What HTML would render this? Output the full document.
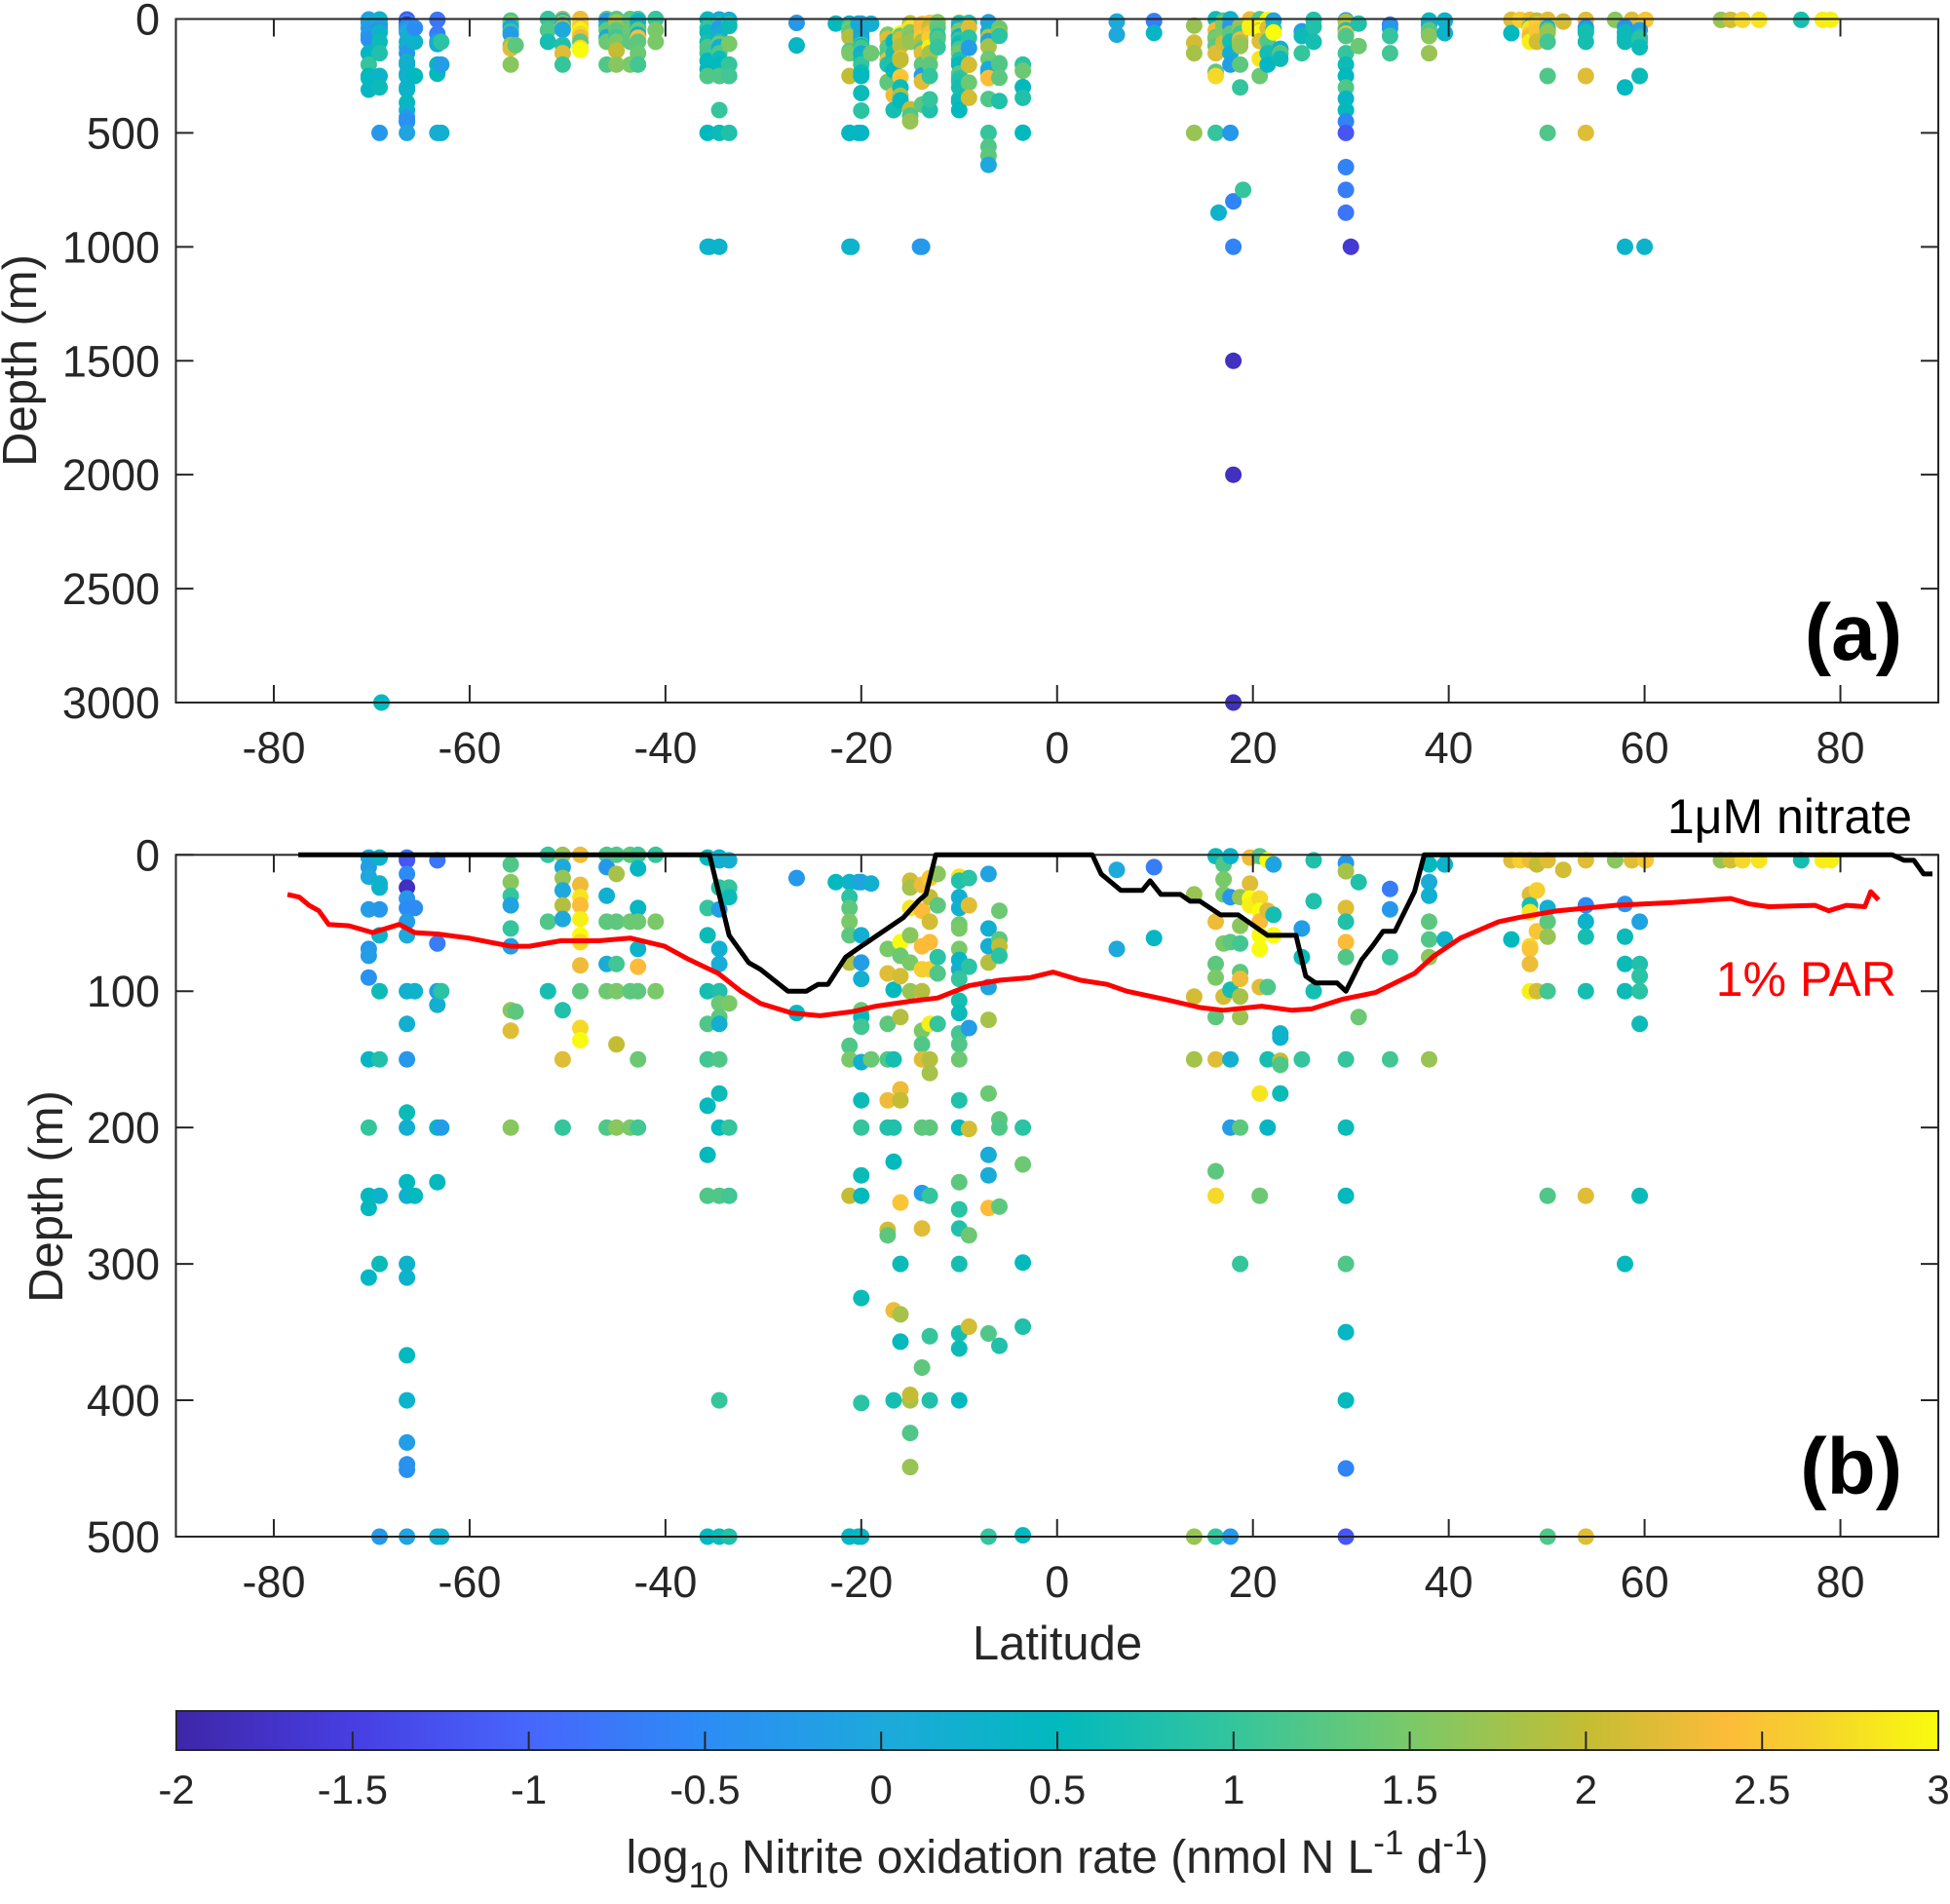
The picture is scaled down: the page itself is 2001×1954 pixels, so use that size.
<!DOCTYPE html>
<html><head><meta charset="utf-8">
<style>
html,body{margin:0;padding:0;background:#fff;}
svg{display:block;font-family:"Liberation Sans",Arial,sans-serif;}
</style></head>
<body>
<svg id="chart" width="2001" height="1954" viewBox="0 0 2001 1954" xmlns="http://www.w3.org/2000/svg">
<defs>
<linearGradient id="parula" x1="0" x2="1" y1="0" y2="0">
<stop offset="0" stop-color="rgb(62,38,168)"/>
<stop offset="0.1" stop-color="rgb(71,62,226)"/>
<stop offset="0.2" stop-color="rgb(71,102,252)"/>
<stop offset="0.3" stop-color="rgb(44,140,245)"/>
<stop offset="0.4" stop-color="rgb(29,169,220)"/>
<stop offset="0.5" stop-color="rgb(2,185,190)"/>
<stop offset="0.6" stop-color="rgb(52,197,157)"/>
<stop offset="0.7" stop-color="rgb(122,201,105)"/>
<stop offset="0.8" stop-color="rgb(196,189,52)"/>
<stop offset="0.88" stop-color="rgb(252,188,57)"/>
<stop offset="0.93" stop-color="rgb(245,210,45)"/>
<stop offset="1" stop-color="rgb(249,251,14)"/>
</linearGradient>
</defs>
<g id="panelA"></g>
<g id="panelB"></g>
<g id="cbar"></g>
</svg>
<script>
// ---- data ----
const stationLat = [-70.3,-69.2,-66.4,-65.6,-63.3,-62.9,-55.8,-55.3,-52,-50.5,-48.7,-46,-45,-43.6,-42.8,-41,-35.7,-34.5,-33.5,-26.6,-22.6,-21.2,-20.3,-20,-19,-17.3,-16.7,-16,-15,-13.8,-13,-12.2,-10,-9,-7,-5.9,-3.5,6.1,9.9,14,16.2,17,17.7,18.7,19.7,20.7,21.5,22.1,22.8,25,26.2,29.5,30.8,34,38,39.6,46.4,47.3,48.3,49,50.1,51.7,54,57,58.7,60.1,58,59.5,67.8,68.8,70,71.7,76,78.2,79,
 -69,18,19,16.5,30,-35.5,-21,-14,60];
const stationDepths = [
[2,9,16,40,69,74,90,150,200,250,259,310],
[2,21,24,40,59,100,150,250,300,500],
[2,4,14,24,32,39,49,59,100,124,150,189,200,240,250,300,310,367,400,431,447,451,500],
[100,250,39],
[4,65,100,110,200,240,500],
[100,200,500],
[7,20,30,37,54,67,114,129,200],
[115],
[0,49,100],
[0,9,17,26,37,47,114,150,200],
[0,22,31,37,47,59,64,81,100,127,136],
[0,9,30,49,80,100,200],
[0,14,49,80,100,139,200],
[0,49,100,200],
[0,10,39,49,69,82,100,150,200],
[0,49,100],
[2,39,59,100,124,150,184,220,250,500,1000],
[2,4,24,40,69,80,100,109,119,124,150,175,200,250,400,500,1000],
[4,24,31,200,250,500,109],
[17,116],
[20],
[20,31,39,49,59,79,140,150,250,500,500,1000],
[500,20],
[20,59,79,91,114,119,126,152,180,200,235,250,325,402,500],
[21,150],
[69,87,124,150,180,200,275,279],
[99,150,200,225,334,400],
[64,74,89,119,172,180,255,300,337,357],
[19,24,39,59,79,100,400,396,424,449],
[22,41,67,84,100,129,139,150,200,248,274,376,1000],
[17,31,49,64,84,124,150,160,200,250,400,353],
[14,37,75,87,124],
[16,19,31,39,51,54,69,77,84,91,107,116,131,139,150,180,200,240,260,274,300,351,362,400],
[17,37,82,127,201,279,346],
[14,54,67,79,97,121,175,220,235,259,351,500,560,600,640],
[41,62,67,74,194,200,258,360],
[200,227,299,346,499],
[11,69],
[9,61],
[29,104,150,500],
[1,49,80,90,119,150,232,250,500],
[7,18,29,65,104],
[1,31,64,99,150,200,500],
[31,52,65,86,91,104,119,200,300],
[2,21,32,37],
[1,32,41,49,59,69,97,175,250],
[4,41,97,150,200],
[7,44,59],
[131,134,151,154,175],
[54,75,150],
[4,34,100],
[6,12,39,49,64,75,150,200,250,300,350,400,450,500,650,750,850],
[20,119],
[25,40,75,150],
[7,20,30,49,62,75,150],
[7,62],
[4,62],
[4],
[4,29,37,42,67,69,80,100],
[7,26,56,100],
[4,39,49,60,100,250,500],
[11],
[4,37,49,60,100,250,500],
[4],[4],[4],
[36,60,80,100,300,1000],
[49,80,89,100,124,250],
[4],[4],[4],[4],[4],[4],[4],
[3000],[3000,2000,1500,1000,800],[750],[850],[1000],[1000],[1000],[1000],[1000]
];
const stationRates = [
[0,-0.2,0,-0.2,-0.3,-0.2,-0.4,0.4,1.0,0.5,0.5,0.4],
[0.3,0.3,0.3,-0.3,0.3,0.6,0.8,0.3,0.6,-0.3],
[-0.8,-1.2,-0.5,-1.8,-0.3,-0.5,-0.2,0,0.2,0.2,-0.3,0.6,0.2,0.5,0.2,0.3,0.3,0.5,0.3,-0.2,-0.4,-0.4,-0.1],
[0.3,0.5,-0.5],
[-0.8,-0.7,-0.2,0.2,0.5,0.5,0.1],
[0.9,-0.2,0.2],
[1.2,1.6,1.0,-0.1,1.0,-0.2,1.6,2.2,1.6],
[1.3],
[1.0,1.2,0.7],
[1.7,0.0,1.7,0.0,1.9,0.0,0.8,2.2,1.0],
[2.3,2.3,2.8,2.4,2.9,3.0,2.7,2.3,1.3,2.7,3.0],
[1.2,-0.3,0.2,1.3,0.1,1.4,1.2],
[1.2,1.8,1.3,1.1,1.5,2.0,1.6],
[1.3,1.4,1.3,1.5],
[1.1,0.4,0.4,1.4,0.3,2.4,1.3,1.4,1.1],
[1.0,1.5,1.5],
[0.5,1.0,0.6,0.7,1.2,1.1,0.5,0.5,1.2,0.5,0.3],
[0.3,0.2,0.9,-0.2,0.2,0.1,0.8,1.4,1.3,0.2,1.2,0.6,0.5,1.2,1.0,0.6,0.3],
[0.2,1.0,0.6,1.0,1.1,0.8,1.5],
[-0.3,0.4],
[0.5],
[0.3,0.9,1.3,1.5,1.3,1.9,1.2,1.5,2.0,0.2,0.4,0.3],
[0.5,0.2],
[-0.1,0.2,-0.2,0.2,1.4,0.5,1.1,0.2,0.6,1.0,0.6,0.5,0.6,0.9,0.4],
[0.2,1.4],
[1.5,2.2,1.3,1.2,2.3,0.8,2.1,1.3],
[0.5,0.7,0.8,0.5,2.3,0.7],
[3.0,1.4,2.1,1.9,2.3,2.0,2.5,0.6,1.8,0.5],
[2.1,1.8,2.8,1.6,1.5,1.7,1.8,2.0,1.2,1.7],
[2.3,2.4,2.4,2.6,1.9,1.5,1.2,2.2,1.3,-0.2,2.2,1.3,-0.3],
[2.5,2.0,2.1,2.4,2.6,2.9,1.9,1.8,1.3,1.0,0.8,1.0],
[1.6,1.3,0.9,1.2,1.0],
[2.8,0.8,0.2,0.2,1.4,1.5,1.5,0.4,0.2,1.0,0.7,0.6,1.1,1.2,1.4,0.8,0.5,1.3,0.9,0.8,0.7,0.7,0.6,0.5],
[0.9,2.2,0.9,-0.2,2.1,1.4,2.1],
[-0.1,0.2,0.2,1.9,-0.1,1.8,1.4,0.1,0.1,2.4,1.2,1.0,1.2,1.3,0.0],
[1.4,1.3,2.0,0.9,1.3,1.2,1.3,0.8],
[0.9,1.4,0.5,0.8,0.5],
[0.0,0.0],
[-0.7,0.4],
[1.7,2.1,1.8,1.7],
[0.6,2.3,1.3,1.5,1.3,2.2,1.3,2.7,1.0],
[1.2,1.5,1.5,1.5,2.1],
[0.3,-0.3,1.3,0.7,0.2,-0.2,-0.3],
[1.7,1.6,1.1,1.3,2.3,1.8,1.7,1.3,1.0],
[2.3,2.2,3.0,2.9],
[1.2,2.7,3.0,2.4,3.0,3.0,2.2,2.8,1.4],
[3.0,2.2,1.2,0.7,0.4],
[-0.1,0.7,3.0],
[0.3,0.3,2.0,1.2,0.6],
[-0.2,0.6,1.0],
[0.8,0.8,0.7],
[-0.3,1.8,2.2,0.8,2.4,1.2,1.0,0.6,0.5,1.2,0.4,0.5,-0.6,-1.2,-0.6,-0.7,-0.8],
[0.8,1.4],
[-0.7,-0.3,1.0,1.1],
[0.5,0.1,0.2,1.3,1.2,1.6,1.7],
[0.3,0.3],
[2.2,0.5],
[2.6],
[2.3,2.2,0.7,2.8,2.7,2.5,2.3,2.9],
[2.0,2.6,2.5,2.1],
[2.2,0.2,1.3,1.7,1.1,1.2,1.2],
[2.1],
[2.2,-0.5,0.3,0.7,0.7,2.2,2.2],
[1.6],[2.2],[2.5],
[-0.4,0.6,0.6,0.6,0.5,0.3],
[-0.1,0.8,0.9,0.9,0.6,0.6],
[1.7],[2.1],[2.7],[2.8],[0.7],[2.9],[2.9],
[0.5],[-1.8,-1.8,-1.8,-0.6,-0.6],[1.0],[0.3],[-1.6],[0.3],[0.3],[-0.3],[0.3]
];
const nitrateLat = [-77.5,-35.5,-33.5,-31.5,-30.3,-27.5,-25.6,-24.4,-23.4,-21.6,-20,-15.7,-14.2,-13.4,-12.4,3.6,4.5,6.5,8.7,9.5,10.6,12.6,13.6,14.6,16.7,18.5,21.5,24.4,25.4,26.4,28.6,29.5,31.1,32.2,33.3,34.5,36.5,37.5,85.3,86.5,87.5,88.5,89.4];
const nitrateDepth = [0,0,59,79,84,100,100,95,95,75,67,46,34,29,0,0,14,26,26,19,29,29,34,34,44,44,59,59,89,94,94,100,77,67,56,56,27,0,0,4,4,14,14];
const parLat = [-78.6,-77.4,-76.4,-75.4,-74.4,-72.3,-69.9,-67.2,-65.6,-63.3,-60.1,-55.8,-53.9,-50.7,-46.8,-43.6,-40.1,-37.8,-34.6,-32.3,-30.3,-27.1,-24.2,-20.9,-18.5,-14.6,-12.2,-9,-5.9,-2.7,-0.4,2.4,5.1,7.1,11,14.6,17,20.9,24,26,29.1,32.5,36.5,38.5,41.2,45.1,47.1,51.1,57,62.9,68.8,70.7,72.7,77.4,78.8,80.6,82.5,83.1,83.9];
const parDepth = [29,31,37,41,51,52,57,51,57,58,61,67,67,63,63,61,67,76,87,100,109,116,118,115,111,107,105,96,92,90,86,92,95,100,106,112,114,111,114,113,106,101,87,74,61,49,46,41,37,35,32,36,38,37,41,37,38,27,33];
const latTicks = [-80,-60,-40,-20,0,20,40,60,80];
const depthTicksA = [0,500,1000,1500,2000,2500,3000];
const depthTicksB = [0,100,200,300,400,500];
const cbarTicks = [-2,-1.5,-1,-0.5,0,0.5,1,1.5,2,2.5,3];

// ---- geometry ----
const L = 180.5, R = 1989;
const A = {top: 19.5, bot: 721, dmax: 3000};
const B = {top: 877.3, bot: 1577, dmax: 500};
function xLat(lat){ return L + (lat + 90) / 180 * (R - L); }
function yDep(P, d){ return P.top + d / P.dmax * (P.bot - P.top); }
const stops = [[0,62,38,168],[0.1,71,62,226],[0.2,71,102,252],[0.3,44,140,245],[0.4,29,169,220],[0.5,2,185,190],[0.6,52,197,157],[0.7,122,201,105],[0.8,196,189,52],[0.88,252,188,57],[0.93,245,210,45],[1,249,251,14]];
function parula(v){
  let t = Math.max(0, Math.min(1, (v + 2) / 5));
  for (let i = 1; i < stops.length; i++){
    if (t <= stops[i][0]){
      const a = stops[i-1], b = stops[i], f = (t - a[0]) / (b[0] - a[0]);
      return 'rgb(' + [1,2,3].map(k => Math.round(a[k] + f * (b[k] - a[k]))).join(',') + ')';
    }
  }
  return 'rgb(249,251,14)';
}
const NS = 'http://www.w3.org/2000/svg';
function mk(tag, attrs, parent){
  const e = document.createElementNS(NS, tag);
  for (const k in attrs) e.setAttribute(k, attrs[k]);
  parent.appendChild(e);
  return e;
}
const AX = '#262626';

function drawPanel(P, g, ticks, letter){
  const dots = mk('g', {}, g);
  
  
  stationLat.forEach((lat, i) => {
    stationDepths[i].forEach((d, j) => {
      if (d > P.dmax + 5) return;
      const c = mk('circle', {cx: xLat(lat).toFixed(1), cy: yDep(P, d).toFixed(1), r: 8.5, fill: parula(stationRates[i][j])}, dots);
      
      
    });
  });
  const box = mk('rect', {x: L, y: P.top, width: R - L, height: P.bot - P.top, fill: 'none', stroke: AX, 'stroke-width': 2}, g);
  
  
  latTicks.forEach(t => {
    const x = xLat(t);
    mk('line', {x1: x, x2: x, y1: P.bot, y2: P.bot - 18, stroke: AX, 'stroke-width': 2}, g);
    mk('line', {x1: x, x2: x, y1: P.top, y2: P.top + 18, stroke: AX, 'stroke-width': 2}, g);
    const tx = mk('text', {x: x, y: P.bot + 62, 'font-size': 45, 'text-anchor': 'middle', fill: AX}, g);
    tx.textContent = String(t);
    
    
  });
  ticks.forEach(t => {
    const y = yDep(P, t);
    mk('line', {x1: L, x2: L + 18, y1: y, y2: y, stroke: AX, 'stroke-width': 2}, g);
    mk('line', {x1: R, x2: R - 18, y1: y, y2: y, stroke: AX, 'stroke-width': 2}, g);
    const ty = mk('text', {x: 164, y: y + 16, 'font-size': 45, 'text-anchor': 'end', fill: AX}, g);
    ty.textContent = String(t);
    
    
  });
  const lt = mk('text', {x: 1952, y: P.bot - 44, 'font-size': 82, 'font-weight': 'bold', 'text-anchor': 'end', fill: '#000'}, g);
  lt.textContent = letter;
  
  
}

const gA = document.getElementById('panelA');
const gB = document.getElementById('panelB');
drawPanel(A, gA, depthTicksA, '(a)');
drawPanel(B, gB, depthTicksB, '(b)');

const yA = mk('text', {x: 0, y: 0, transform: 'translate(37,370) rotate(-90)', 'font-size': 49, 'text-anchor': 'middle', fill: AX}, gA);
yA.textContent = 'Depth (m)';


const yB = mk('text', {x: 0, y: 0, transform: 'translate(64,1228) rotate(-90)', 'font-size': 49, 'text-anchor': 'middle', fill: AX}, gB);
yB.textContent = 'Depth (m)';


const xt = mk('text', {x: 1085, y: 1703, 'font-size': 49, 'text-anchor': 'middle', fill: AX}, gB);
xt.textContent = 'Latitude';



function pathFrom(lats, deps){
  return lats.map((la, i) => (i ? 'L' : 'M') + xLat(la).toFixed(1) + ' ' + yDep(B, deps[i]).toFixed(1)).join(' ');
}
const par = mk('path', {d: pathFrom(parLat, parDepth), fill: 'none', stroke: '#ff0000', 'stroke-width': 5, 'stroke-linejoin': 'round'}, gB);


const nit = mk('path', {d: pathFrom(nitrateLat, nitrateDepth), fill: 'none', stroke: '#000', 'stroke-width': 5, 'stroke-linejoin': 'round'}, gB);


const nl = mk('text', {x: 1962, y: 855, 'font-size': 50, 'text-anchor': 'end', fill: '#000'}, gB);
nl.textContent = '1μM nitrate';


const pl = mk('text', {x: 1946, y: 1022, 'font-size': 50, 'text-anchor': 'end', fill: '#ff0000'}, gB);
pl.textContent = '1% PAR';



const gC = document.getElementById('cbar');
const cbT = 1756, cbB = 1796;
const cb = mk('rect', {x: 181, y: cbT, width: 1808, height: cbB - cbT, fill: 'url(#parula)', stroke: AX, 'stroke-width': 2}, gC);


function xCb(v){ return 181 + (v + 2) / 5 * 1808; }
cbarTicks.forEach(t => {
  const x = xCb(t);
  if (t > -2 && t < 3) mk('line', {x1: x, x2: x, y1: cbB, y2: cbB - 19, stroke: AX, 'stroke-width': 2}, gC);
  const tl = mk('text', {x: x, y: 1851, 'font-size': 42, 'text-anchor': 'middle', fill: AX}, gC);
  tl.textContent = String(t);
  
  
});
const cl = mk('text', {x: 1085, y: 1922, 'font-size': 48, 'text-anchor': 'middle', fill: AX}, gC);


cl.innerHTML = 'log<tspan dy="15" font-size="37">10</tspan><tspan dy="-15"> Nitrite oxidation rate (nmol N L</tspan><tspan dy="-19" font-size="35">-1</tspan><tspan dy="19"> d</tspan><tspan dy="-19" font-size="35">-1</tspan><tspan dy="19">)</tspan>';
</script>
</body></html>
